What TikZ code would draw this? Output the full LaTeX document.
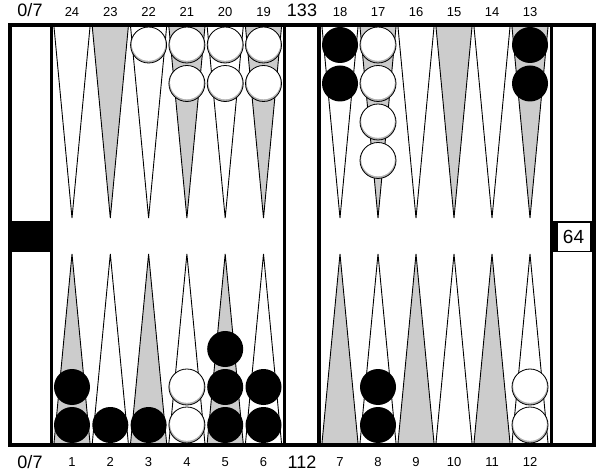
\documentclass[tikz,border=0pt]{standalone}
\usepackage{fontspec}
\setmainfont{Liberation Sans}
\definecolor{ptgray}{gray}{0.8}

\tikzset{
  wchk/.pic={
    \fill[gray!60] (0,0) circle (18pt);
    \fill[white] (0,-1) circle (16.8pt);
    \draw[line width=0.8pt] (0,0) circle (18pt);
  },
  bchk/.pic={\fill[black] (0,0) circle (18pt);},
  lbl/.style={font=\fontsize{13}{15}\selectfont, inner sep=0pt},
  biglbl/.style={font=\fontsize{18}{20}\selectfont, inner sep=0pt},
  cubebox/.style={draw, fill=white, line width=0.8pt, minimum width=33pt, minimum height=29pt,
    inner sep=0pt, font=\fontsize{19}{21}\selectfont},
}

\begin{document}
\begin{tikzpicture}[x=1pt,y=-1pt]
  \useasboundingbox (0,0) rectangle (603,473);
  \fill[white] (10,25) rectangle (594,445);

  % points and their numbers
  \foreach \x/\up/\dn/\cu/\cd in {72/24/1/white/ptgray, 110.3/23/2/ptgray/white,
      148.6/22/3/white/ptgray, 186.9/21/4/ptgray/white, 225.2/20/5/white/ptgray,
      263.5/19/6/ptgray/white, 340/18/7/white/ptgray, 378/17/8/ptgray/white,
      416/16/9/white/ptgray, 454/15/10/ptgray/white, 492/14/11/white/ptgray,
      530/13/12/ptgray/white}{
    \filldraw[fill=\cu, line width=0.9pt] (\x-18,27) -- (\x,218) -- (\x+18,27);
    \filldraw[fill=\cd, line width=0.9pt] (\x-18,443) -- (\x,254) -- (\x+18,443);
    \node[lbl] (top\up) at (\x,12) {\up};
    \node[lbl] (bot\dn) at (\x,462) {\dn};
  }

  % white checkers
  \foreach \x/\y in {148.6/45, 186.9/45, 186.9/83.5, 225.2/45, 225.2/83.5,
      263.5/45, 263.5/83.5, 378/45, 378/83.5, 378/122, 378/160.5,
      186.9/425, 186.9/387, 530/425, 530/387}
    \pic at (\x,\y) {wchk};

  % black checkers
  \foreach \x/\y in {340/45, 340/83.5, 530/45, 530/83.5, 72/425,
      72/387, 110.3/425, 148.6/425, 225.2/425, 225.2/387, 225.2/349,
      263.5/425, 263.5/387, 378/425, 378/387}
    \pic at (\x,\y) {bchk};

  % frame, bar and trays
  \draw[line width=4pt] (10,25) rectangle (594,445);
  \draw[line width=3pt] (51.5,25) -- (51.5,445);
  \draw[line width=3pt] (284.5,25) -- (284.5,445);
  \draw[line width=3.5pt] (319,25) -- (319,445);
  \draw[line width=3pt] (551.5,25) -- (551.5,445);
  \fill (10,221) rectangle (51.5,252);
  \fill (551.5,221) rectangle (594,252);
  \node[cubebox] (cube) at (573.5,236.5) {64};

  % pip counts and borne-off counts
  \node[biglbl] (offtop) at (30,10) {0/7};
  \node[biglbl] (piptop) at (302,10) {133};
  \node[biglbl] (offbot) at (30,462) {0/7};
  \node[biglbl] (pipbot) at (302,462) {112};
\end{tikzpicture}
\end{document}
